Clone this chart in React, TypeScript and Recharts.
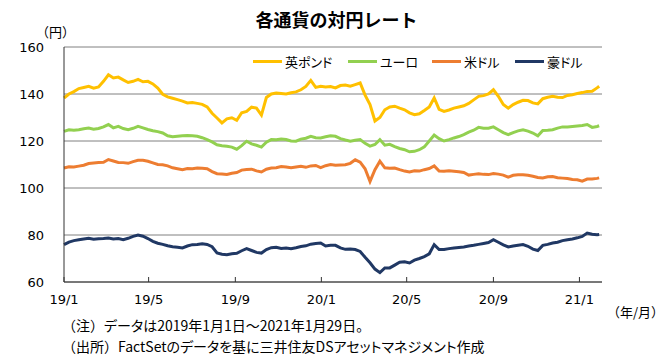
import { LineChart, Line, XAxis, YAxis, CartesianGrid } from 'recharts'

// days since 2019/1/1, roughly weekly
const days = [
  0, 7, 14, 21, 28, 35, 42, 49, 56, 63,
  70, 77, 84, 91, 98, 105, 112, 119, 126, 133,
  140, 147, 154, 161, 168, 175, 182, 189, 196, 203,
  210, 217, 224, 231, 238, 245, 252, 259, 266, 273,
  280, 287, 294, 301, 308, 315, 322, 329, 336, 343,
  350, 357, 364, 371, 378, 385, 392, 399, 406, 413,
  420, 427, 434, 441, 448, 455, 462, 469, 476, 483,
  490, 497, 504, 511, 518, 525, 532, 539, 546, 553,
  560, 567, 574, 581, 588, 595, 602, 609, 616, 623,
  630, 637, 644, 651, 658, 665, 672, 679, 686, 693,
  700, 707, 714, 721, 728, 735, 742, 749, 756, 759,
]

const gbp = [
  138.3, 140.0, 141.0, 142.3, 142.8, 143.3, 142.5, 143.0, 145.4, 148.2,
  146.8, 147.2, 146.0, 144.9, 145.4, 146.2, 145.2, 145.4, 144.3, 142.5,
  139.9, 138.8, 138.2, 137.6, 137.0, 136.2, 136.4, 136.0, 135.6, 134.5,
  131.8, 129.8, 127.7, 129.4, 129.9, 128.8, 132.0, 132.6, 134.4, 134.0,
  131.0, 138.5, 140.0, 140.4, 140.2, 140.0, 140.5, 140.9, 141.8, 143.2,
  145.8, 142.8, 143.3, 143.0, 143.2, 142.6, 143.6, 143.8, 143.3, 144.0,
  144.7, 139.5, 135.5, 128.5, 130.0, 133.3, 134.5, 134.8, 134.0, 133.3,
  132.0, 131.2, 131.6, 133.0, 134.5, 138.3, 133.5, 132.6, 133.2, 134.0,
  134.5, 135.0, 136.0, 137.5, 139.0, 139.3, 140.0, 141.8, 139.0, 135.5,
  134.0, 135.5, 136.5, 137.3, 137.2, 136.2, 135.8, 138.0, 138.6, 139.0,
  138.6, 138.5, 139.4, 139.7, 140.2, 140.6, 141.1, 141.2, 142.6, 143.3,
]

const eur = [
  124.1, 124.8, 124.6, 124.8, 125.2, 125.5, 125.0, 125.3, 126.0, 127.0,
  125.6, 126.2, 125.3, 124.8, 125.4, 126.2, 125.6, 124.9, 124.4, 124.0,
  123.4, 122.2, 121.8, 122.0, 122.2, 122.3, 122.2, 122.0, 121.4, 120.6,
  119.6, 118.4, 118.0, 117.8, 117.4, 116.5, 118.0, 119.9, 118.8, 118.2,
  117.4, 119.5, 120.6, 120.5, 120.8, 120.6, 120.0, 119.9, 120.8, 121.2,
  122.0, 121.4, 121.3, 121.8, 122.2, 122.0, 121.0, 120.4, 119.9, 120.3,
  120.6, 119.0, 117.8, 118.5, 120.6, 118.2, 118.6, 117.6, 116.8, 116.3,
  115.4, 115.6, 116.3, 117.5, 120.0, 122.5, 121.0, 120.0, 120.6, 121.3,
  121.9, 122.7, 123.8, 124.6, 125.8, 125.4, 125.4, 126.0, 124.8, 123.6,
  122.7, 123.6, 124.3, 124.8, 124.2, 123.4, 122.2, 124.5, 124.6, 124.8,
  125.5, 126.0, 126.0, 126.2, 126.4, 126.6, 127.0, 125.8, 126.2, 126.5,
]

const usd = [
  108.5, 109.0, 108.9, 109.3, 109.7, 110.4, 110.6, 110.8, 110.9, 112.1,
  111.5, 110.9, 110.8, 110.5, 111.2, 111.8, 111.8, 111.4, 110.7, 110.0,
  109.9, 109.4, 108.6, 108.2, 107.8, 108.3, 108.2, 108.5, 108.4, 108.2,
  107.0, 106.1, 106.0, 105.8, 106.3, 106.6, 107.6, 107.9, 108.0, 107.3,
  106.8, 108.0, 108.5, 108.6, 109.1, 108.9, 108.6, 108.9, 109.2, 108.8,
  109.4, 109.6, 108.7, 109.5, 110.0, 109.7, 109.8, 109.9, 110.5, 112.0,
  111.0, 108.2, 102.8, 107.8, 111.4, 108.6, 108.4, 108.5, 107.8, 107.2,
  106.8, 107.3, 107.2, 107.8, 108.3, 109.4, 107.2, 107.1, 107.3, 107.1,
  106.9, 106.6, 105.5, 105.8, 106.1, 105.8, 105.7, 106.2, 105.9, 105.5,
  104.6, 105.4, 105.6, 105.6, 105.4, 105.0, 104.5, 104.3, 104.8, 104.9,
  104.4, 104.2, 104.0, 103.6, 103.5, 102.9, 103.8, 103.8, 104.1, 104.3,
]

const aud = [
  75.9, 77.0, 77.6, 78.0, 78.3, 78.6, 78.2, 78.4, 78.5, 78.7,
  78.3, 78.5, 78.0, 78.6, 79.4, 80.0, 79.5, 78.5, 77.3, 76.5,
  76.0, 75.4, 75.0, 74.8, 74.5, 75.3, 75.9, 76.0, 76.3, 76.0,
  75.0, 72.4, 71.8, 71.6, 72.0, 72.2, 73.3, 74.2, 73.4, 72.6,
  72.3, 73.8, 74.6, 74.8, 74.3, 74.5, 74.2, 74.6, 75.1, 75.4,
  76.1, 76.4, 76.6, 75.3, 75.6, 75.6, 74.5, 73.9, 74.0, 73.8,
  73.0, 70.5, 68.2, 65.5, 64.0, 66.0, 66.0, 67.2, 68.4, 68.6,
  68.1, 69.3, 70.0, 70.8, 72.0, 75.9, 73.8, 73.8, 74.2, 74.5,
  74.7, 74.9, 75.3, 75.6, 76.0, 76.4, 76.8, 78.0, 76.9, 75.8,
  74.9, 75.3, 75.6, 75.9, 75.2, 74.0, 73.4, 75.6, 76.0, 76.6,
  76.9, 77.6, 78.0, 78.3, 78.8, 79.4, 80.8, 80.3, 80.1, 80.2,
]

const tickDays = [0, 120, 243, 365, 486, 609, 731]
const tickLabels = ['19/1', '19/5', '19/9', '20/1', '20/5', '20/9', '21/1']
const yTicks = [60, 80, 100, 120, 140, 160]

const seriesKeys = ['gbp', 'eur', 'usd', 'aud']
const seriesNames = ['英ポンド', 'ユーロ', '米ドル', '豪ドル']
const seriesColors = ['#FFC000', '#92D050', '#ED7D31', '#203864']
const legendLeft = [253, 348, 432, 515]

const notes = [
  ['（注）', 'データは2019年1月1日～2021年1月29日。'],
  ['（出所）', 'FactSetのデータを基に三井住友DSアセットマネジメント作成'],
]

const data = days.map((d, i) => ({ day: d, gbp: gbp[i], eur: eur[i], usd: usd[i], aud: aud[i] }))

const axisFont = '"DejaVu Sans", Verdana, sans-serif'
const jpFont = '"Noto Sans CJK JP", sans-serif'

function XTick(props: any) {
  const { x, y, payload } = props
  const label = tickLabels[tickDays.indexOf(payload.value)]
  return (
    <g>
      <line x1={x} x2={x} y1={y} y2={y - 5} stroke="#333" />
      <text x={x} y={y + 22} textAnchor="middle" fontSize={13} fill="#000" fontFamily={axisFont}>
        {label}
      </text>
    </g>
  )
}

export default function App() {
  return (
    <div
      style={{
        position: 'absolute',
        left: 0,
        top: 0,
        width: 664,
        height: 357,
        background: '#fff',
        fontFamily: jpFont,
        color: '#000',
      }}
    >
      <div
        style={{
          position: 'absolute',
          left: 0,
          width: 673,
          top: 8,
          textAlign: 'center',
          fontSize: 18,
          fontWeight: 700,
          lineHeight: '22px',
        }}
      >
        各通貨の対円レート
      </div>
      <div style={{ position: 'absolute', left: 36, top: 23, fontSize: 13, lineHeight: '18px' }}>（円）</div>

      <LineChart width={664} height={357} data={data} margin={{ top: 47, right: 62, bottom: 0, left: 0 }}>
        <CartesianGrid vertical={false} stroke="#808080" />
        <XAxis
          dataKey="day"
          type="number"
          domain={[0, 763]}
          ticks={tickDays}
          interval={0}
          height={75}
          tickSize={0}
          tickMargin={0}
          tickLine={false}
          tick={<XTick />}
          stroke="#333"
        />
        <XAxis xAxisId="t" orientation="top" type="number" dataKey="day" domain={[0, 763]} tick={false} height={0} stroke="#333" />
        <YAxis
          domain={[60, 160]}
          ticks={yTicks}
          interval={0}
          width={64}
          tickSize={0}
          tickMargin={20}
          tickLine={false}
          tick={{ fontSize: 13, fill: '#000', fontFamily: axisFont }}
          stroke="#333"
        />
        <YAxis yAxisId="r" orientation="right" domain={[60, 160]} tick={false} width={0} stroke="#333" />
        {seriesKeys.map((k, i) => (
          <Line
            key={k}
            type="linear"
            dataKey={k}
            name={seriesNames[i]}
            stroke={seriesColors[i]}
            strokeWidth={3}
            dot={false}
            isAnimationActive={false}
          />
        ))}
      </LineChart>

      {seriesNames.map((n, i) => (
        <div
          key={n}
          style={{
            position: 'absolute',
            left: legendLeft[i],
            top: 52,
            height: 18,
            display: 'flex',
            alignItems: 'center',
            fontSize: 13,
            fontFeatureSettings: '"palt"',
          }}
        >
          <span style={{ display: 'inline-block', width: 29, height: 3, background: seriesColors[i], marginRight: 3 }} />
          <span>{n}</span>
        </div>
      ))}

      <div style={{ position: 'absolute', left: 607, top: 303, fontSize: 13, lineHeight: '18px' }}>（年/月）</div>
      {notes.map((n, i) => (
        <div
          key={i}
          style={{
            position: 'absolute',
            left: 62,
            top: 315 + i * 21,
            fontSize: 14,
            lineHeight: '20px',
            whiteSpace: 'nowrap',
          }}
        >
          <span>{n[0]}</span>
          <span style={{ fontFeatureSettings: '"palt"' }}>{n[1]}</span>
        </div>
      ))}
    </div>
  )
}
